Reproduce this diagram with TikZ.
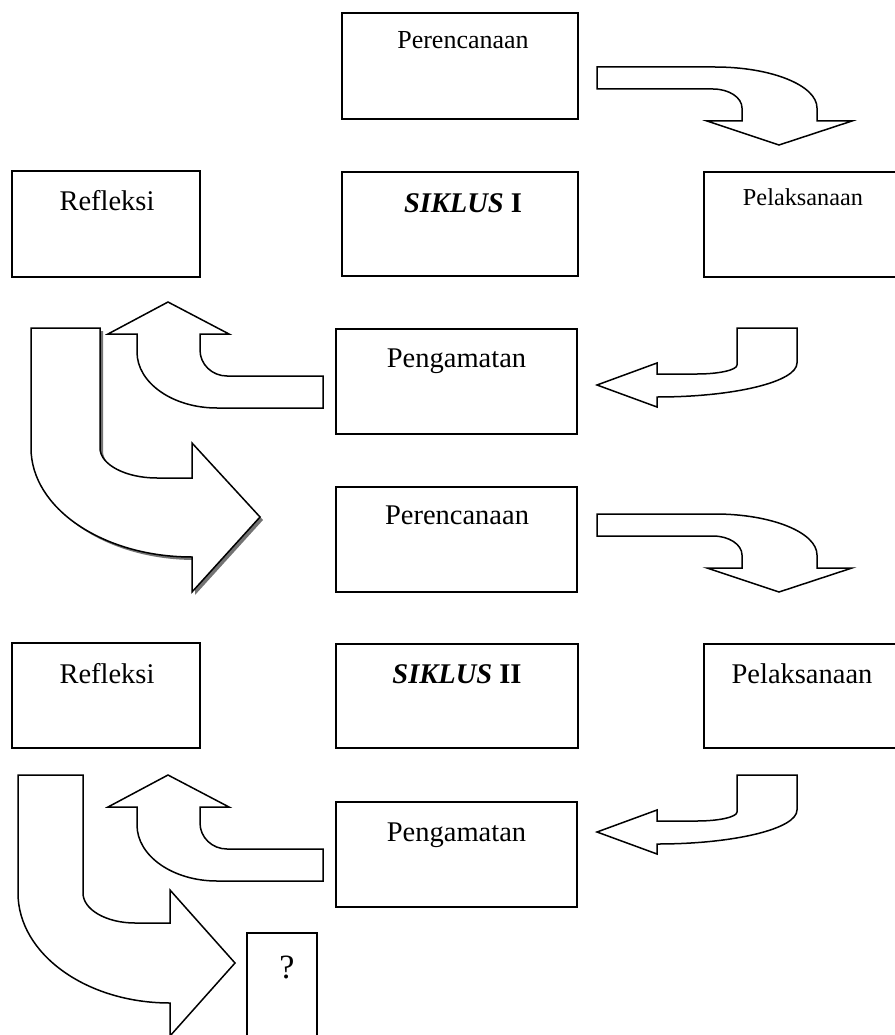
\documentclass[tikz,border=0pt]{standalone}
\usepackage{fontspec}
\setmainfont{Liberation Serif}
\begin{document}
\begin{tikzpicture}[x=1pt,y=-1pt,
  box/.style={draw=black,line width=1.6pt,inner sep=0pt,outer sep=0pt,rectangle},
  txt/.style={anchor=base,inner sep=0pt,font=\fontsize{28.5}{34}\selectfont},
  blockarrow/.style={draw=black,fill=white,line width=1.5pt,line join=miter},
  shadowarrow/.style={fill=black!55}]
\useasboundingbox (0,0) rectangle (894,1035);
\newcommand\arrowA{(597,67) -- (715,67) arc[start angle=90,end angle=0,x radius=102pt,y radius=41pt] -- (817,121) -- (852,121) -- (779,145) -- (707,121) -- (742,121) -- (742,108) arc[start angle=0,end angle=90,x radius=29pt,y radius=19pt] -- (597,89) -- cycle}
\newcommand\arrowB{(737,328) -- (797,328) -- (797,363) arc[start angle=0,end angle=-90,x radius=140pt,y radius=34pt] -- (657,407) -- (597,385) -- (657,363) -- (657,374) -- (697,374) arc[start angle=-90,end angle=0,x radius=40pt,y radius=9pt] -- cycle}
\newcommand\arrowC{(323,376) -- (227,376) arc[start angle=-90,end angle=-180,x radius=27pt,y radius=26pt] -- (200,334) -- (229,334) -- (168,302) -- (108,334) -- (137,334) -- (137,352) arc[start angle=180,end angle=270,x radius=80pt,y radius=56pt] -- (323,408) -- cycle}
\newcommand\arrowD{(31,328) -- (100,328) -- (100,448) arc[start angle=180,end angle=270,x radius=57pt,y radius=30pt] -- (192,478) -- (192,443) -- (260,517) -- (192,592) -- (192,557) arc[start angle=270,end angle=180,x radius=161pt,y radius=109pt] -- cycle}
\newcommand\arrowH{(18,775) -- (83,775) -- (83,893) arc[start angle=180,end angle=270,x radius=52pt,y radius=30pt] -- (170,923) -- (170,890) -- (235,963) -- (170,1036) -- (170,1003) arc[start angle=270,end angle=180,x radius=152pt,y radius=110pt] -- cycle}

% boxes
\node[box,minimum width=236pt,minimum height=106pt] (p1) at (460,66) {};
\node[box,minimum width=236pt,minimum height=104pt] (s1) at (460,224) {};
\node[box,minimum width=188pt,minimum height=106pt] (r1) at (106,224) {};
\node[box,minimum width=193pt,minimum height=105pt] (l1) at (800.5,224.5) {};
\node[box,minimum width=241pt,minimum height=105pt] (g1) at (456.5,381.5) {};
\node[box,minimum width=241pt,minimum height=105pt] (p2) at (456.5,539.5) {};
\node[box,minimum width=242pt,minimum height=104pt] (s2) at (457,696) {};
\node[box,minimum width=188pt,minimum height=105pt] (r2) at (106,695.5) {};
\node[box,minimum width=193pt,minimum height=104pt] (l2) at (800.5,696) {};
\node[box,minimum width=241pt,minimum height=105pt] (g2) at (456.5,854.5) {};
\node[box,minimum width=70pt,minimum height=107pt] (q) at (282,986.5) {};

% texts
\node[txt,font=\fontsize{26}{31}\selectfont] (tp1) at (463,49) {Perencanaan};
\node[txt] (ts1) at (463,212) {\textbf{\textit{SIKLUS}} \textbf{I}};
\node[txt] (tr1) at (107,210) {Refleksi};
\node[txt,font=\fontsize{24.3}{29}\selectfont] (tl1) at (803,205) {Pelaksanaan};
\node[txt] (tg1) at (456.5,367) {Pengamatan};
\node[txt] (tp2) at (457,524) {Perencanaan};
\node[txt] (ts2) at (457,683) {\textbf{\textit{SIKLUS}} \textbf{II}};
\node[txt] (tr2) at (107,683) {Refleksi};
\node[txt] (tl2) at (802,683) {Pelaksanaan};
\node[txt] (tg2) at (456.5,841) {Pengamatan};
\node[txt,font=\fontsize{34}{40}\selectfont] (tq) at (287,978) {?};

% block arrows, cycle I
\draw[blockarrow] \arrowA;
\draw[blockarrow] \arrowB;
\draw[blockarrow] \arrowC;
\begin{scope}[shift={(3,3)}]
\fill[shadowarrow] \arrowD;
\end{scope}
\draw[blockarrow] \arrowD;

% block arrows, cycle II
\begin{scope}[shift={(0,447)}]
\draw[blockarrow] \arrowA;
\draw[blockarrow] \arrowB;
\end{scope}
\begin{scope}[shift={(0,473)}]
\draw[blockarrow] \arrowC;
\end{scope}
\draw[blockarrow] \arrowH;
\end{tikzpicture}
\end{document}
